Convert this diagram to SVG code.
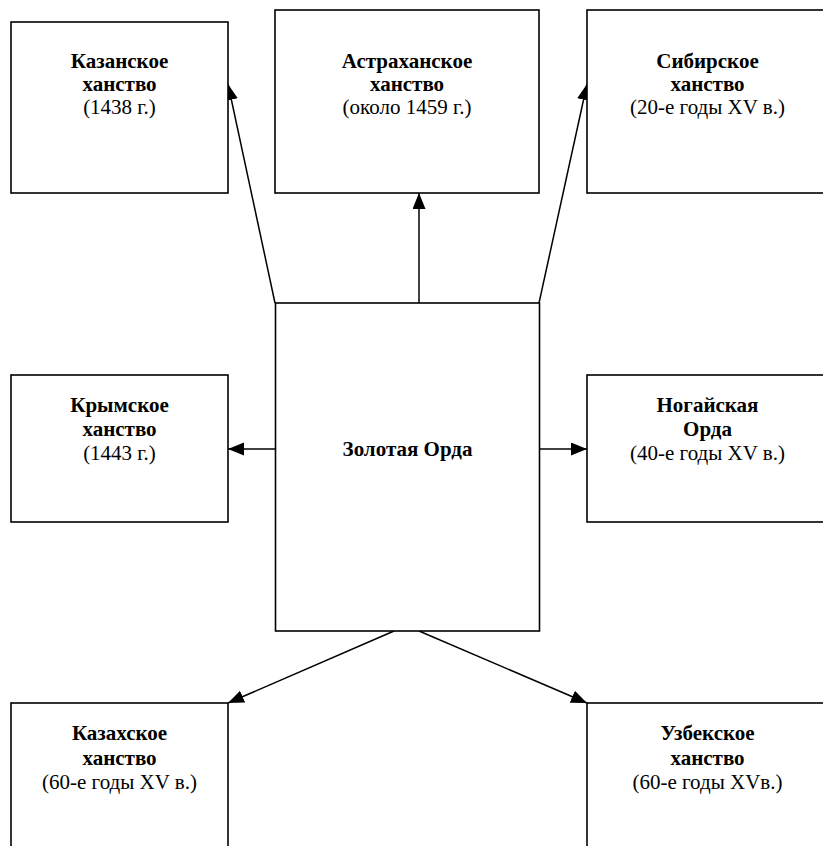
<svg xmlns="http://www.w3.org/2000/svg" width="823" height="846" viewBox="0 0 823 846">
<defs>
<style>
.box{fill:#fff;stroke:#000;stroke-width:1.6}
.conn{stroke:#000;stroke-width:1.5;fill:none}
.t{font-size:21px;text-anchor:middle;fill:#000}
.b{font-weight:bold}
</style>
<marker id="arr" markerUnits="userSpaceOnUse" markerWidth="17" markerHeight="14" refX="16" refY="6.5" orient="auto">
<path d="M0,0 L16,6.5 L0,13 Z" fill="#000"/>
</marker>
</defs>
<rect width="823" height="846" fill="#fff"/>
<g id="connectors">
<line class="conn" x1="275" y1="303" x2="228" y2="84" marker-end="url(#arr)"/>
<line class="conn" x1="419" y1="303" x2="419" y2="193" marker-end="url(#arr)"/>
<line class="conn" x1="539" y1="303" x2="587" y2="84" marker-end="url(#arr)"/>
<line class="conn" x1="275" y1="449" x2="228" y2="449" marker-end="url(#arr)"/>
<line class="conn" x1="540" y1="449" x2="587" y2="449" marker-end="url(#arr)"/>
<line class="conn" x1="394" y1="631" x2="228" y2="703" marker-end="url(#arr)"/>
<line class="conn" x1="419" y1="631" x2="587" y2="703" marker-end="url(#arr)"/>
</g>
<g class="t" font-family="'Liberation Serif', 'DejaVu Serif', serif">
<g id="kazan">
<rect class="box" x="11" y="22" width="217" height="171"/>
<text class="b" x="119.5" y="68">Казанское</text>
<text class="b" x="119.5" y="91">ханство</text>
<text x="119.5" y="114">(1438 г.)</text>
</g>
<g id="astrakhan">
<rect class="box" x="275" y="10" width="264" height="183"/>
<text class="b" x="407" y="68">Астраханское</text>
<text class="b" x="407" y="91">ханство</text>
<text x="407" y="114">(около 1459 г.)</text>
</g>
<g id="sibir">
<rect class="box" x="587" y="10" width="242" height="183"/>
<text class="b" x="707.5" y="68">Сибирское</text>
<text class="b" x="707.5" y="91">ханство</text>
<text x="707.5" y="114">(20-е годы XV в.)</text>
</g>
<g id="zolotaya">
<rect class="box" x="275.5" y="303" width="264" height="328"/>
<text class="b" x="407.5" y="456">Золотая Орда</text>
</g>
<g id="krym">
<rect class="box" x="11" y="375" width="217" height="147"/>
<text class="b" x="119.5" y="412">Крымское</text>
<text class="b" x="119.5" y="436">ханство</text>
<text x="119.5" y="460">(1443 г.)</text>
</g>
<g id="nogai">
<rect class="box" x="587" y="375" width="242" height="147"/>
<text class="b" x="707.5" y="412">Ногайская</text>
<text class="b" x="707.5" y="436">Орда</text>
<text x="707.5" y="460">(40-е годы XV в.)</text>
</g>
<g id="kazakh">
<rect class="box" x="11" y="703" width="217" height="160"/>
<text class="b" x="119.5" y="740">Казахское</text>
<text class="b" x="119.5" y="765">ханство</text>
<text x="119.5" y="789">(60-е годы XV в.)</text>
</g>
<g id="uzbek">
<rect class="box" x="587" y="703" width="242" height="160"/>
<text class="b" x="707.5" y="740">Узбекское</text>
<text class="b" x="707.5" y="765">ханство</text>
<text x="707.5" y="789">(60-е годы XVв.)</text>
</g>
</g>
</svg>
